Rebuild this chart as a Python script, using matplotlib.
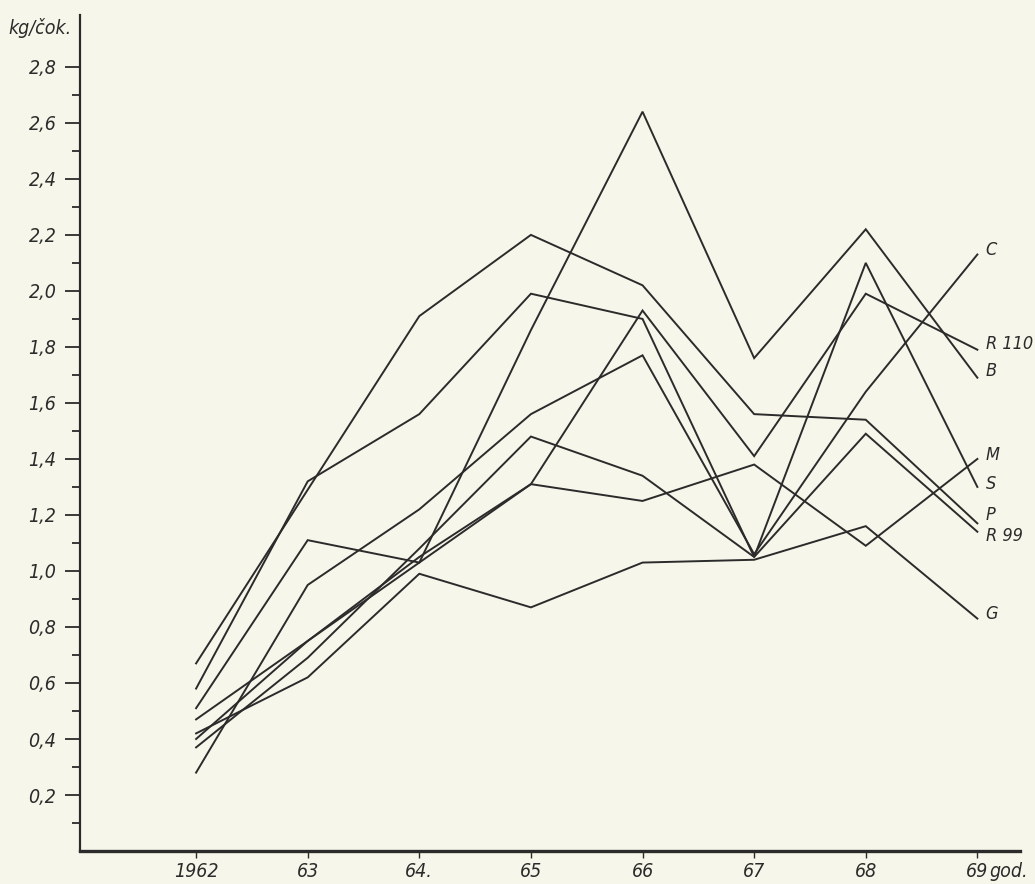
import numpy as np
import matplotlib.pyplot as plt
from matplotlib.ticker import FixedLocator

plt.rcParams["font.family"] = ["DejaVu Sans"]
plt.rcParams["font.stretch"] = "condensed"

# years on the x axis
years = [1962, 1963, 1964, 1965, 1966, 1967, 1968, 1969]
year_labels = ["1962", "63", "64.", "65", "66", "67", "68", "69"]
unit_x = "god."

# kg per hive
C    = [0.28, 0.95, 1.22, 1.56, 1.77, 1.06, 1.64, 2.13]
R110 = [0.47, 0.75, 1.03, 1.31, 1.93, 1.41, 1.99, 1.79]
B    = [0.51, 1.11, 1.03, 1.86, 2.64, 1.76, 2.22, 1.69]
M    = [0.40, 0.75, 1.05, 1.31, 1.25, 1.38, 1.09, 1.40]
S    = [0.58, 1.32, 1.56, 1.99, 1.90, 1.05, 2.10, 1.30]
P    = [0.67, 1.29, 1.91, 2.20, 2.02, 1.56, 1.54, 1.17]
R99  = [0.37, 0.69, 1.08, 1.48, 1.34, 1.05, 1.49, 1.14]
G    = [0.42, 0.62, 0.99, 0.87, 1.03, 1.04, 1.16, 0.83]

series = [("C", C), ("R 110", R110), ("B", B), ("M", M),
          ("S", S), ("P", P), ("R 99", R99), ("G", G)]
# small vertical nudges of the end labels (points)
label_dy = {"C": 3, "R 110": 4, "B": 5, "M": 3, "S": 2, "P": 6, "R 99": -3, "G": 3}

ink = "#2b2b2b"
paper = "#f7f6ea"

fig = plt.figure(figsize=(10.35, 8.84), dpi=100, facecolor=paper)
ax = fig.add_axes([0.0773, 0.0373, 0.908, 0.946])
ax.set_facecolor(paper)

for name, vals in series:
    ax.plot(years, vals, color=ink, lw=1.4, solid_joinstyle="miter")
    ax.annotate(name, (years[-1], vals[-1]), xytext=(6, label_dy[name]),
                textcoords="offset points", va="center", ha="left",
                fontsize=13, style="italic", color=ink)

ax.set_xlim(1960.96, 1969.38)
ax.set_ylim(0, 2.986)

for side in ["top", "right"]:
    ax.spines[side].set_visible(False)
ax.spines["left"].set_linewidth(1.6)
ax.spines["bottom"].set_linewidth(2.4)
ax.spines["left"].set_color(ink)
ax.spines["bottom"].set_color(ink)

yt = np.round(np.arange(0.2, 2.81, 0.2), 1)
ax.yaxis.set_major_locator(FixedLocator(yt))
ax.set_yticklabels([("%.1f" % v).replace(".", ",") for v in yt])
ax.yaxis.set_minor_locator(FixedLocator(np.round(np.arange(0.1, 2.8, 0.2), 1)))
ax.tick_params(axis="y", which="major", length=11, width=1.3, colors=ink,
               labelsize=14, pad=6, direction="out")
ax.tick_params(axis="y", which="minor", length=6, width=1.3, colors=ink,
               direction="out")
for lab in ax.get_yticklabels():
    lab.set_style("italic")

ax.set_xticks(years)
ax.set_xticklabels(year_labels)
ax.tick_params(axis="x", length=5, width=1.0, colors=ink, labelsize=14,
               pad=3, direction="out")
for lab in ax.get_xticklabels():
    lab.set_style("italic")
# unit written right after the last year
ax.annotate(unit_x, xy=(years[-1], 0), xycoords=("data", "axes fraction"),
            xytext=(9, -8), textcoords="offset points", ha="left", va="top",
            fontsize=14, style="italic", color=ink)

fig.text(0.008, 0.968, "kg/čok.", fontsize=14, style="italic", color=ink,
         ha="left", va="center")

fig.savefig("out.png", dpi=100, facecolor=paper)
